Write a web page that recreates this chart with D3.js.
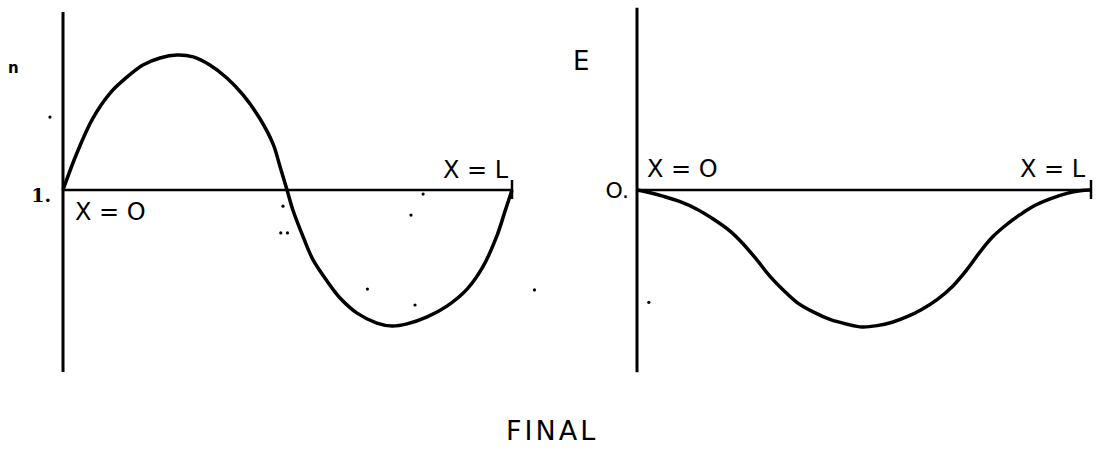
<!DOCTYPE html>
<html>
<head>
<meta charset="utf-8">
<script src="https://cdn.jsdelivr.net/npm/d3@7"></script>
<style>
  html, body { margin: 0; padding: 0; background: #fff; }
  svg { display: block; }
  .lbl { font-family: "DejaVu Sans", sans-serif; fill: #000; }
</style>
</head>
<body>
<div id="chart"></div>
<script>
// position along the rod, 0 at X = 0 and 1 at X = L
const nX = [0, 0.031, 0.067, 0.105, 0.143, 0.178, 0.216, 0.254, 0.29, 0.327, 0.365, 0.401, 0.439, 0.468, 0.483, 0.499,
            0.512, 0.535, 0.557, 0.588, 0.617, 0.655, 0.699, 0.733, 0.766, 0.811, 0.855, 0.9, 0.935, 0.967, 0.984, 1];
// n (1 on the baseline)
const nVals = [1.0, 1.137, 1.267, 1.359, 1.419, 1.463, 1.489, 1.5, 1.493, 1.463, 1.415, 1.352, 1.263, 1.17, 1.089, 1.0,
               0.926, 0.826, 0.741, 0.663, 0.6, 0.544, 0.507, 0.496, 0.504, 0.53, 0.57, 0.633, 0.715, 0.833, 0.919, 1.0];

const eX = [0, 0.029, 0.057, 0.095, 0.132, 0.167, 0.205, 0.233, 0.264, 0.293, 0.322, 0.352, 0.388, 0.425, 0.463, 0.496,
            0.529, 0.562, 0.595, 0.628, 0.661, 0.696, 0.727, 0.756, 0.784, 0.815, 0.844, 0.872, 0.91, 0.947, 0.976, 1];
// E (0 on the baseline)
const eVals = [0, -0.02, -0.045, -0.085, -0.14, -0.21, -0.3, -0.39, -0.51, -0.63, -0.73, -0.82, -0.89, -0.945, -0.98, -1.0,
               -0.99, -0.965, -0.925, -0.87, -0.8, -0.7, -0.58, -0.45, -0.34, -0.25, -0.18, -0.12, -0.065, -0.025, -0.006, 0];

const nTick = '1.';
const eTick = 'O.';
const nAxisExtent = [0.326, 1.659];
const eAxisExtent = [-1.33, 1.33];

// scan specks, in data units
const nSpecks = [[-0.029, 1.27], [0.49, 0.94], [0.802, 0.985], [0.775, 0.907], [0.678, 0.633], [0.784, 0.574],
                 [1.05, 0.63], [0.485, 0.841], [0.5, 0.841]];
const eSpecks = [[0.026, -0.82]];

const width = 1103, height = 452;
const svg = d3.select('#chart').append('svg')
  .attr('width', width)
  .attr('height', height);
svg.append('rect').attr('width', width).attr('height', height).attr('fill', '#fff');

const xL = d3.scaleLinear().domain([0, 1]).range([63, 512]);
const yN = d3.scaleLinear().domain([0.5, 1.5]).range([325, 55]);
const xR = d3.scaleLinear().domain([0, 1]).range([637, 1091]);
const yE = d3.scaleLinear().domain([-1, 0]).range([327, 190]);

function drawPanel(x, y, xs, vals, base, extent, specks) {
  const g = svg.append('g');
  // vertical axis
  g.append('line')
    .attr('x1', x(0)).attr('x2', x(0))
    .attr('y1', y(extent[1])).attr('y2', y(extent[0]))
    .attr('stroke', '#000').attr('stroke-width', 3);
  // baseline from X = 0 to X = L
  g.append('line')
    .attr('x1', x(0)).attr('x2', x(1))
    .attr('y1', y(base)).attr('y2', y(base))
    .attr('stroke', '#000').attr('stroke-width', 2.5);
  // end tick at X = L
  g.append('line')
    .attr('x1', x(1)).attr('x2', x(1))
    .attr('y1', y(base) - 10).attr('y2', y(base) + 9)
    .attr('stroke', '#000').attr('stroke-width', 2.5);

  const line = d3.line()
    .x(d => x(d[0]))
    .y(d => y(d[1]))
    .curve(d3.curveCatmullRom.alpha(0.5));
  g.append('path')
    .datum(d3.zip(xs, vals))
    .attr('d', line)
    .attr('fill', 'none')
    .attr('stroke', '#000')
    .attr('stroke-width', 3.5)
    .attr('stroke-linejoin', 'round');

  g.selectAll('.speck')
    .data(specks)
    .enter()
    .append('circle')
    .attr('cx', d => x(d[0]))
    .attr('cy', d => y(d[1]))
    .attr('r', 1.6)
    .attr('fill', '#000');
  return g;
}

const gL = drawPanel(xL, yN, nX, nVals, 1, nAxisExtent, nSpecks);
const gR = drawPanel(xR, yE, eX, eVals, 0, eAxisExtent, eSpecks);

// left panel labels
gL.append('text').attr('class', 'lbl')
  .attr('x', 8).attr('y', 73)
  .style('font-size', '15px').style('font-weight', 'bold')
  .text('n');
gL.append('text').attr('class', 'lbl')
  .attr('x', xL(0) - 12).attr('y', yN(1) + 12)
  .attr('text-anchor', 'end')
  .style('font-family', '"DejaVu Serif", serif')
  .style('font-size', '19px').style('font-weight', 'bold')
  .text(nTick);
gL.append('text').attr('class', 'lbl')
  .attr('x', xL(0) + 12).attr('y', yN(1) + 30)
  .style('font-size', '24px')
  .text('X = O');
gL.append('text').attr('class', 'lbl')
  .attr('x', xL(1) - 69).attr('y', yN(1) - 12)
  .style('font-size', '24px')
  .text('X = L');

// right panel labels
gR.append('text').attr('class', 'lbl')
  .attr('x', 573).attr('y', 70)
  .style('font-size', '26px')
  .text('E');
gR.append('text').attr('class', 'lbl')
  .attr('x', xR(0) - 8).attr('y', yE(0) + 8)
  .attr('text-anchor', 'end')
  .style('font-size', '22px')
  .text(eTick);
gR.append('text').attr('class', 'lbl')
  .attr('x', xR(0) + 10).attr('y', yE(0) - 13)
  .style('font-size', '24px')
  .text('X = O');
gR.append('text').attr('class', 'lbl')
  .attr('x', xR(1) - 71).attr('y', yE(0) - 13)
  .style('font-size', '24px')
  .text('X = L');

svg.append('text').attr('class', 'lbl')
  .attr('x', 506).attr('y', 440)
  .style('font-size', '27px').style('letter-spacing', '3px')
  .text('FINAL');
</script>
</body>
</html>
